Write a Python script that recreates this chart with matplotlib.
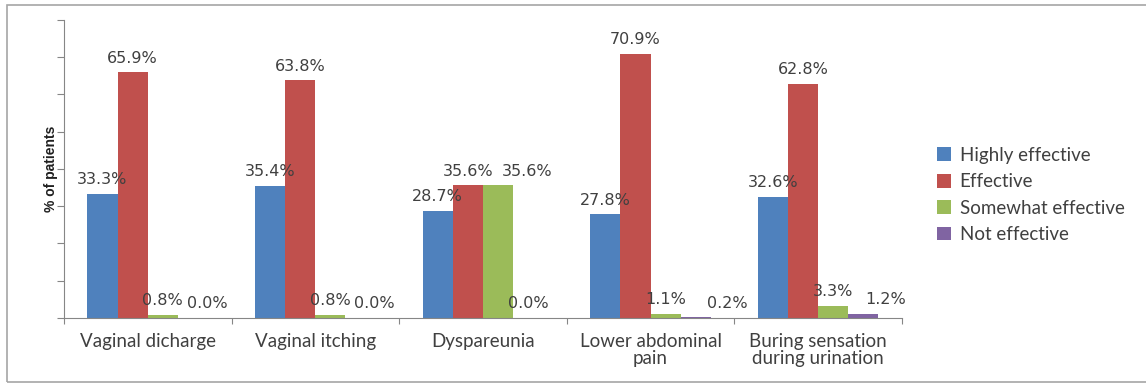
import numpy as np
import matplotlib.pyplot as plt
from matplotlib.patches import Rectangle

categories = ["Vaginal dicharge", "Vaginal itching", "Dyspareunia",
              "Lower abdominal\npain", "Buring sensation\nduring urination"]
series = ["Highly effective", "Effective", "Somewhat effective", "Not effective"]
highly = [33.3, 35.4, 28.7, 27.8, 32.6]
effective = [65.9, 63.8, 35.6, 70.9, 62.8]
somewhat = [0.8, 0.8, 35.6, 1.1, 3.3]
not_eff = [0.0, 0.0, 0.0, 0.2, 1.2]

colors = ["#4F81BD", "#C0504D", "#9BBB59", "#8064A2"]
txt = "#404040"

# sideways nudge (points) for labels that were dragged off their bars
nudge = {(2, 2): 21, (3, 0): 10, (3, 1): 10, (3, 3): 23, (3, 4): 16}

fig = plt.figure(figsize=(11.46, 3.83), dpi=100)
fig.patch.set_facecolor("white")
fig.add_artist(Rectangle((0.006, 0.003), 1.1, 0.985, transform=fig.transFigure,
                         fill=False, edgecolor="#A6A6A6", lw=1.2))

ax = fig.add_axes([0.0558, 0.1697, 0.7312, 0.7783])

x = np.arange(len(categories))
w = 0.18
values = [highly, effective, somewhat, not_eff]
for i, (name, vals) in enumerate(zip(series, values)):
    pos = x + (i - 1.5) * w
    ax.bar(pos, vals, width=w, color=colors[i], label=name, zorder=2)
    for j, (p, v) in enumerate(zip(pos, vals)):
        dx = nudge.get((i, j), 0)
        ax.annotate(f"{v:.1f}%", (p, v), xytext=(dx, 7), textcoords="offset points",
                    ha="center", va="baseline", fontsize=11.5, color=txt,
                    fontfamily="DejaVu Sans")

ax.set_xlim(-0.5, len(categories) - 0.5)
ax.set_ylim(0, 80)
ax.set_yticks(np.arange(0, 81, 10))
ax.set_yticklabels([])
ax.set_xticks(np.arange(-0.5, len(categories)))
ax.set_xticklabels([])
ax.set_xticks(x, minor=True)
ax.set_xticklabels(categories, minor=True, fontsize=13.5, color=txt,
                   fontfamily=["Lato", "DejaVu Sans"], linespacing=0.95)
ax.tick_params(axis="x", which="minor", length=0, pad=11)
ax.tick_params(axis="x", which="major", length=4, color="#868686", direction="out")
ax.tick_params(axis="y", length=5, color="#868686", direction="out")

for s in ["top", "right"]:
    ax.spines[s].set_visible(False)
for s in ["left", "bottom"]:
    ax.spines[s].set_color("#868686")

ax.set_ylabel("% of patients", fontsize=10, fontweight="bold", color="#202020",
              fontfamily=["Liberation Sans Narrow", "Liberation Sans"], labelpad=-4)

ax.legend(loc="center left", bbox_to_anchor=(1.022, 0.413), frameon=False,
          labelcolor=txt, handlelength=0.75, handleheight=0.75,
          handletextpad=0.45, labelspacing=0.5,
          prop={"family": ["Lato", "DejaVu Sans"], "size": 13.5})

fig.savefig("out.png", dpi=100)
